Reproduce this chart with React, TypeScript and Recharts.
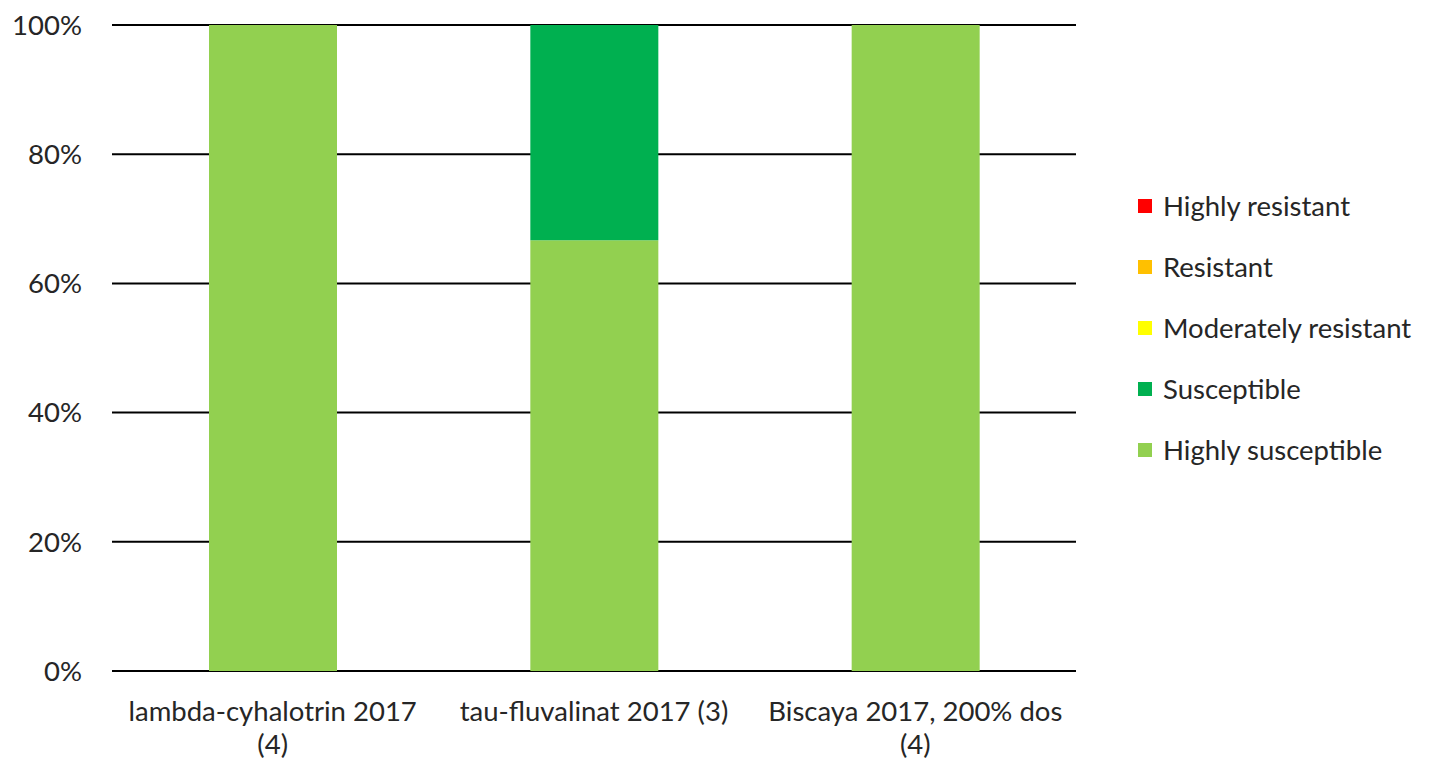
import { BarChart, Bar, XAxis, YAxis, CartesianGrid } from "recharts";

const categories = [
  "lambda-cyhalotrin 2017 (4)",
  "tau-fluvalinat 2017 (3)",
  "Biscaya 2017, 200% dos (4)",
];
// tick labels, wrapped the way the original shows them
const tickLines = [
  ["lambda-cyhalotrin 2017", "(4)"],
  ["tau-fluvalinat 2017 (3)"],
  ["Biscaya 2017, 200% dos", "(4)"],
];

const highlySusceptible = [100, 66.67, 100];
const susceptible = [0, 33.33, 0];
const moderatelyResistant = [0, 0, 0];
const resistant = [0, 0, 0];
const highlyResistant = [0, 0, 0];

const yTicks = [0, 20, 40, 60, 80, 100];

const series = [
  { key: "hs", name: "Highly susceptible", color: "#92D050", values: highlySusceptible },
  { key: "s", name: "Susceptible", color: "#00B050", values: susceptible },
  { key: "mr", name: "Moderately resistant", color: "#FFFF00", values: moderatelyResistant },
  { key: "r", name: "Resistant", color: "#FFC000", values: resistant },
  { key: "hr", name: "Highly resistant", color: "#FF0000", values: highlyResistant },
];

const data = categories.map((name, i) => {
  const row: Record<string, any> = { name };
  series.forEach((s) => (row[s.key] = s.values[i]));
  return row;
});

const FONT = "Lato, 'Open Sans', sans-serif";
const FONT_SIZE = 27.5;
const TEXT = "#262626";

function CategoryTick(props: any) {
  const { x, y, index } = props;
  const lines = tickLines[index] || [];
  return (
    <g>
      {lines.map((line, i) => (
        <text
          key={i}
          x={x}
          y={y + 42 + i * 33}
          textAnchor="middle"
          fill={TEXT}
          fontSize={FONT_SIZE}
          fontFamily={FONT}
        >
          {line}
        </text>
      ))}
    </g>
  );
}

function SideLegend() {
  const items = [...series].reverse();
  return (
    <div
      style={{
        position: "absolute",
        left: 1138,
        top: 175,
        fontFamily: FONT,
        fontSize: FONT_SIZE,
        color: TEXT,
      }}
    >
      {items.map((s) => (
        <div key={s.key} style={{ display: "flex", alignItems: "center", height: 61 }}>
          <span
            style={{
              width: 14,
              height: 14,
              background: s.color,
              display: "inline-block",
              marginRight: 11,
            }}
          />
          <span style={{ whiteSpace: "nowrap" }}>{s.name}</span>
        </div>
      ))}
    </div>
  );
}

export default function App() {
  return (
    <div style={{ position: "absolute", left: 0, top: 0, width: 1429, height: 765, background: "#fff" }}>
      <BarChart
        width={1429}
        height={765}
        data={data}
        margin={{ top: 25, right: 353, bottom: 0, left: 0 }}
      >
        <CartesianGrid vertical={false} stroke="#000" strokeWidth={2} />
        <XAxis
          dataKey="name"
          height={94}
          axisLine={false}
          tickLine={false}
          interval={0}
          tick={<CategoryTick />}
        />
        <YAxis
          width={112}
          domain={[0, 100]}
          ticks={yTicks}
          axisLine={false}
          tickLine={false}
          tickSize={0}
          tickMargin={30}
          tickFormatter={(v) => `${v}%`}
          tick={{ fill: TEXT, fontSize: FONT_SIZE, fontFamily: FONT }}
        />
        {series.map((s) => (
          <Bar
            key={s.key}
            dataKey={s.key}
            name={s.name}
            stackId="a"
            fill={s.color}
            barSize={128}
            isAnimationActive={false}
          />
        ))}
      </BarChart>
      <SideLegend />
    </div>
  );
}
